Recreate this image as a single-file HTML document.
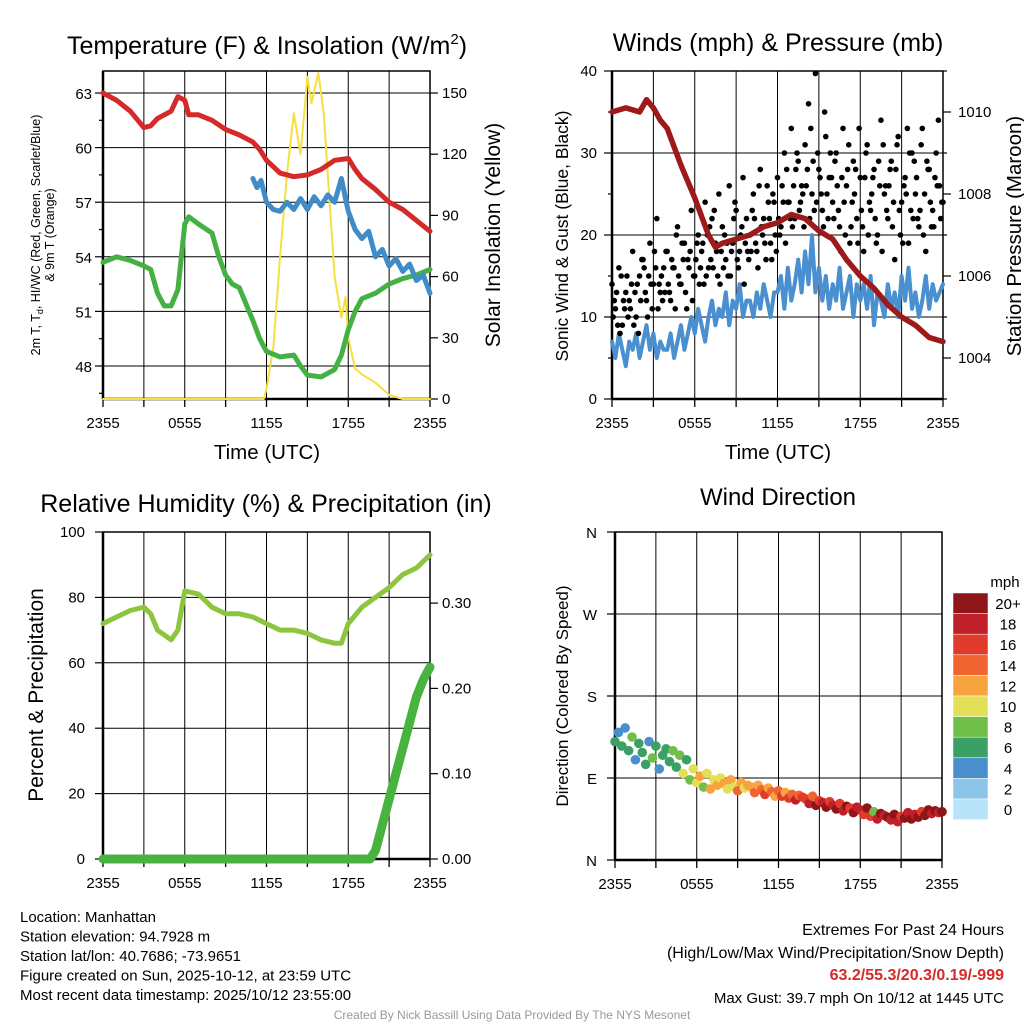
<!DOCTYPE html>
<html><head><meta charset="utf-8"><style>
body{margin:0;background:#fff;width:1024px;height:1024px;overflow:hidden}
svg text{font-family:"Liberation Sans",Arial,sans-serif;fill:#000}
</style></head><body>
<svg id="s" width="1024" height="1024" xmlns="http://www.w3.org/2000/svg"></svg>
<script>
// ---------- data ----------
const xTickLabels=["2355","0555","1155","1755","2355"];
const tHours=[0,1,2,3,3.5,4,5,5.5,6,6.3,7,8,9,10,11,11.5,12,13,14,15,16,17,18,18.5,19,20,21,22,23,24];
const tempRed=[63,62.6,62.0,61.1,61.2,61.6,62.0,62.8,62.6,61.8,61.8,61.5,61.0,60.7,60.3,59.9,59.3,58.6,58.4,58.5,58.8,59.3,59.4,58.8,58.3,57.7,57.0,56.6,56.0,55.4];
const dewHours=[0,1,2,3,3.5,4,4.5,5,5.5,6,6.3,7,8,8.5,9,9.5,10,11,11.5,12,13,14,14.5,15,16,17,17.5,18,18.5,19,20,21,22,23,24];
const dewGreen=[53.7,54.0,53.8,53.5,53.3,52.0,51.3,51.3,52.2,55.8,56.2,55.8,55.3,54.0,53.0,52.5,52.3,50.5,49.5,48.8,48.5,48.6,48.0,47.5,47.4,47.8,48.6,50.0,51.0,51.7,52.0,52.5,52.8,53.0,53.3];
const hiHours=[11,11.3,11.6,12,12.5,13,13.5,14,14.5,15,15.5,16,16.5,17,17.5,17.8,18,18.5,19,19.5,20,20.5,21,21.5,22,22.5,23,23.5,24];
const hiBlue=[58.3,57.8,58.2,57.0,56.6,56.5,57.0,56.6,57.2,56.6,57.3,56.8,57.4,57.0,58.3,57.2,56.5,55.5,55.0,55.4,54.0,54.4,53.5,53.9,53.2,53.6,52.7,53.0,52.0];
const solHours=[0,11.8,12,12.5,13,13.5,14,14.5,15,15.3,15.8,16.2,16.5,17,17.5,17.8,18,18.5,19,20,21,22,24];
const solar=[0,0,5,25,70,110,140,120,158,145,160,140,110,60,40,50,30,15,12,8,2,0,0];
const presHours=[0,1,2,2.5,3,3.5,4,5,6,7,7.5,8,9,10,11,12,13,14,15,16,17,18,19,20,21,22,23,24];
const pressure=[1010.0,1010.1,1010.0,1010.3,1010.1,1009.8,1009.6,1008.7,1007.9,1007.0,1006.7,1006.8,1006.9,1007.0,1007.2,1007.3,1007.5,1007.4,1007.1,1006.9,1006.4,1006.0,1005.7,1005.3,1005.0,1004.8,1004.5,1004.4];
const windSpeed=[7,5,8,6,4,7,6,8,5,7,9,6,8,5,7,6,6,8,5,7,9,6,8,10,8,11,9,7,10,12,9,11,10,13,9,12,11,14,10,12,12,10,13,11,14,12,10,13,13,15,11,16,12,14,17,13,18,14,20,13,16,12,15,11,14,12,16,11,13,15,10,14,12,14,11,15,9,13,12,10,14,11,13,10,15,12,16,11,13,10,12,15,11,14,12,13,14];
const gust=[14,11,16,9,13,12,18,10,15,17,12,19,14,22,13,16,18,12,16,21,14,19,17,23,15,20,18,24,16,22,19,25,21,17,26,19,23,18,27,22,20,25,18,28,22,26,19,24,27,21,30,24,33,22,29,26,31,36,25,39.7,28,23,32,27,24,30,21,33,26,19,29,22,27,18,31,23,28,20,34,25,22,29,17,32,24,27,19,30,25,21,33,18,28,23,30,26,24];
const gust2=[10,13,8,12,15,11,9,14,12,16,10,14,18,11,15,13,14,17,11,15,19,13,16,12,17,14,19,15,21,16,18,14,16,19,15,22,17,20,14,18,18,22,16,21,19,24,17,20,22,26,19,24,21,28,23,25,26,22,29,24,27,21,25,30,22,26,18,24,28,21,25,19,23,27,20,25,22,29,18,26,26,21,28,23,19,25,30,22,27,23,20,29,24,21,26,22,23];
const gust3=[12,9,15,11,10,14,13,8,17,13,15,11,16,14,12,18,13,16,20,14,17,11,18,15,19,16,14,20,17,23,15,18,20,15,18,24,16,21,19,17,23,19,26,20,17,22,25,18,20,24,28,22,26,30,24,21,28,33,23,30,25,35,22,27,29,23,27,20,31,24,28,33,21,30,24,27,19,26,31,23,28,24,31,20,26,33,23,29,22,31,25,28,21,27,34,24,30];
const direction=[130,140,125,145,120,135,110,128,118,105,130,112,125,100,115,122,108,120,102,115,95,110,88,100,85,92,80,95,78,88,82,90,84,78,88,80,76,85,79,82,80,74,82,77,72,79,75,70,76,70,74,68,72,66,71,69,67,62,70,60,65,63,58,64,60,56,62,54,59,57,52,58,55,50,57,48,53,45,51,49,47,44,50,42,48,46,52,45,50,47,53,49,55,51,54,52,53];
const dirSpeed=[6,5,7,4,6,8,5,7,6,7,5,8,6,4,7,6,7,9,6,8,10,7,9,11,10,12,9,11,13,10,12,11,12,10,13,11,14,12,10,13,13,15,12,14,16,13,15,12,14,16,13,17,15,18,14,16,17,19,15,20,16,18,21,17,18,20,16,19,21,17,20,18,19,16,20,17,8,19,21,18,20,18,22,19,17,21,18,20,19,21,17,20,22,18,21,19,20];
const rhHours=[0,1,2,3,3.5,4,5,5.5,6,7,8,9,10,11,12,13,14,15,16,17,17.5,18,19,20,21,22,23,24];
const rh=[72,74,76,77,75,70,67,70,82,81,77,75,75,74,72,70,70,69,67,66,66,72,77,80,83,87,89,93];
const pcpHours=[0,19.6,20,20.5,21,21.5,22,22.5,23,23.5,24];
const precip=[0,0,0.01,0.04,0.07,0.10,0.13,0.16,0.19,0.21,0.225];
const tempTicks=[63,60,57,54,51,48];
const solTicks=[150,120,90,60,30,0];
const windTicks=[40,30,20,10,0];
const presTicks=[1010,1008,1006,1004];
const rhTicks=[100,80,60,40,20,0];
const pcpTicks=["0.30","0.20","0.10","0.00"];
const dirTicks=["N","E","S","W","N"];
const cbLabels=["20+","18","16","14","12","10","8","6","4","2","0"];
const cbColors=["#8e1518","#c0202a","#e03a2a","#ef6430","#f7a33e","#e3e057","#6fbf4a","#3aa064","#4a8fcb","#8cc5ea","#b9e3f8"];
// ---------- helpers ----------
const S=document.getElementById('s');const NS="http://www.w3.org/2000/svg";
function el(t,a,p){const e=document.createElementNS(NS,t);for(const k in a)e.setAttribute(k,a[k]);(p||S).appendChild(e);return e;}
function txt(x,y,s,sz,anc,rot,name){const e=el('text',{x:x,y:y,'font-size':sz,'text-anchor':anc||'middle'});if(rot)e.setAttribute('transform','rotate(-90 '+x+' '+y+')');e.innerHTML=s;

return e;}
function sx(x0,x1){return h=>x0+(x1-x0)*h/24;}
function line(xs,ys,fx,fy,col,w,name){let d='';xs.forEach((h,i)=>{d+=(i?'L':'M')+fx(h).toFixed(1)+' '+fy(ys[i]).toFixed(1);});const p=el('path',{d:d,fill:'none',stroke:col,'stroke-width':w,'stroke-linejoin':'round','stroke-linecap':'round'});

return p;}
function frame(x0,y0,x1,y1,name,yLines,fx){const g=el('g',{});


for(let h=3;h<24;h+=3)el('line',{x1:fx(h),x2:fx(h),y1:y0,y2:y1,stroke:'#000','stroke-width':1},g);
yLines.forEach(y=>el('line',{x1:x0,x2:x1,y1:y,y2:y,stroke:'#000','stroke-width':1},g));
for(let h=0;h<=24;h+=3)el('line',{x1:fx(h),x2:fx(h),y1:y1,y2:y1+8,stroke:'#000','stroke-width':1.3},g);
el('rect',{x:x0,y:y0,width:x1-x0,height:y1-y0,fill:'none',stroke:'#000','stroke-width':1.5},g);
el('line',{x1:x0,x2:x0,y1:y0,y2:y1,stroke:'#000','stroke-width':2.5},g);
el('line',{x1:x0,x2:x1,y1:y1,y2:y1,stroke:'#000','stroke-width':2.5},g);
xTickLabels.forEach((l,i)=>txt(fx(i*6),y1+29,l,15,'middle',0,'x-tick-label'));
return g;}
function lt(x,y,len){el('line',{x1:x,x2:x-len,y1:y,y2:y,stroke:'#000','stroke-width':1.2});}
function rt(x,y,len){el('line',{x1:x,x2:x+len,y1:y,y2:y,stroke:'#000','stroke-width':1.2});}
// ---------- Panel 1 ----------
{const fx=sx(103,430),fy=v=>93+(63-v)*18.2,fs=v=>399-v*2.04;
const yl=tempTicks.map(fy);
frame(103,71,430,399,'temperature-panel',yl,fx);
tempTicks.forEach(v=>{lt(103,fy(v),8);txt(92,fy(v)+6,v,15,'end',0,'temp-tick-label');});
for(let v=46.5;v<64;v+=1.5)if(!tempTicks.includes(v))lt(103,fy(v),4);
solTicks.forEach(v=>{rt(430,fs(v),8);txt(442,fs(v)+5,v,15,'start',0,'solar-tick-label');});
line(solHours,solar,fx,fs,'#f5e040',2,'solar-line');
line(tHours,tempRed,fx,fy,'#d42a2a',5,'temp-line');
line(dewHours,dewGreen,fx,fy,'#45b043',5,'dewpoint-line');
line(hiHours,hiBlue,fx,fy,'#3f8cc9',5,'heat-index-line');
txt(267,54,'Temperature (F) &amp; Insolation (W/m<tspan font-size="15" dy="-10">2</tspan><tspan dy="10">)</tspan>',25,'middle',0,'temperature-title');
txt(267,459,'Time (UTC)',20.5,'middle',0,'temperature-x-title');
txt(40,235,'2m T, T<tspan font-size="9" dy="3">d</tspan><tspan dy="-3">, HI/WC (Red, Green, Scarlet/Blue)</tspan>',12.5,'middle',1,'temperature-y-title');
txt(54,235,'&amp; 9m T (Orange)',12.5,'middle',1,'temperature-y-title-2');
txt(500,235,'Solar Insolation (Yellow)',21,'middle',1,'solar-y-title');}
// ---------- Panel 2 ----------
{const fx=sx(612,943),fy=v=>399-v*8.2,fp=p=>399-(p-1003)*41;
frame(612,71,943,399,'wind-panel',[10,20,30].map(fy),fx);
windTicks.forEach(v=>{lt(612,fy(v),8);txt(597,fy(v)+5,v,15,'end',0,'wind-tick-label');});
for(let v=5;v<40;v+=10)lt(612,fy(v),4);
presTicks.forEach(v=>{rt(943,fp(v),8);txt(958,fp(v)+5,v,15,'start',0,'pressure-tick-label');});
for(let v=1003;v<=1011;v++)if(!presTicks.includes(v))rt(943,fp(v),4);
const wh=windSpeed.map((_,i)=>i*0.25);
line(wh,windSpeed,fx,fy,'#4a90d0',4,'wind-speed-line');
const g=el('g',{});


[[gust,0],[gust2,0.083],[gust3,0.166]].forEach(([arr,off])=>arr.forEach((v,i)=>{const h=i*0.25+off;if(h>24)return;const c=el('circle',{cx:fx(h),cy:fy(v),r:2.8,fill:'#000'},g);

}));
line(presHours,pressure,fx,fp,'#9c1a1a',5.5,'pressure-line');
txt(778,51,'Winds (mph) &amp; Pressure (mb)',25,'middle',0,'wind-title');
txt(778,459,'Time (UTC)',20.5,'middle',0,'wind-x-title');
txt(568,236,'Sonic Wind &amp; Gust (Blue, Black)',17.5,'middle',1,'wind-y-title');
txt(1021,236,'Station Pressure (Maroon)',20.5,'middle',1,'pressure-y-title');}
// ---------- Panel 3 ----------
{const fx=sx(103,430),fy=v=>859-v*3.27,fq=v=>859-v*853;
frame(103,532,430,859,'humidity-panel',[20,40,60,80].map(fy),fx);
rhTicks.forEach(v=>{lt(103,fy(v),8);txt(85,fy(v)+5,v,15,'end',0,'rh-tick-label');});
pcpTicks.forEach(v=>{rt(430,fq(+v),8);txt(442,fq(+v)+5,v,15,'start',0,'precip-tick-label');});
line(rhHours,rh,fx,fy,'#8cc63f',5,'rh-line');
line(pcpHours,precip,fx,fq,'#49b33f',9,'precip-line');
txt(266,512,'Relative Humidity (%) &amp; Precipitation (in)',25,'middle',0,'humidity-title');
txt(43,695,'Percent &amp; Precipitation',21,'middle',1,'humidity-y-title');}
// ---------- Panel 4 ----------
{const fx=sx(615,942),fy=d=>860-d*(328/360);
frame(615,532,942,860,'direction-panel',[90,180,270].map(fy),fx);
dirTicks.forEach((l,i)=>{lt(615,fy(i*90),8);txt(597,fy(i*90)+6,l,15,'end',0,'direction-tick-label');});
const col=s=>cbColors[10-Math.min(10,Math.floor(s/2))];
const g=el('g',{});


direction.forEach((d,i)=>{const c=el('circle',{cx:fx(i*0.25),cy:fy(d),r:4.8,fill:col(dirSpeed[i])},g);

});
txt(778,505,'Wind Direction',24,'middle',0,'direction-title');
txt(568,696,'Direction (Colored By Speed)',17,'middle',1,'direction-y-title');
const cb=el('g',{});


cbColors.forEach((c,i)=>{el('rect',{x:953,y:593+i*20.6,width:35,height:20.6,fill:c,stroke:'#fff','stroke-width':0.5},cb);txt(1008,609+i*20.6,cbLabels[i],15,'middle',0,'colorbar-label');});
txt(1005,587,'mph',15,'middle',0,'colorbar-title');}
// ---------- footer ----------
const L=["Location: Manhattan","Station elevation: 94.7928 m","Station lat/lon: 40.7686; -73.9651","Figure created on Sun, 2025-10-12, at 23:59 UTC","Most recent data timestamp: 2025/10/12 23:55:00"];
L.forEach((s,i)=>txt(20,922+i*19.5,s,15,'start',0,'station-info'));
txt(1004,935,'Extremes For Past 24 Hours',16,'end',0,'extremes-title');
txt(1004,958,'(High/Low/Max Wind/Precipitation/Snow Depth)',16,'end',0,'extremes-subtitle');
const ex=txt(1004,980,'63.2/55.3/20.3/0.19/-999',16,'end',0,'extremes-values');ex.setAttribute('font-weight','bold');ex.style.fill='#d42a2a';
txt(1004,1003,'Max Gust: 39.7 mph On 10/12 at 1445 UTC',15,'end',0,'max-gust');
const cr=txt(512,1019,'Created By Nick Bassill Using Data Provided By The NYS Mesonet',12,'middle',0,'credit');cr.style.fill='#999';
</script>
</body></html>
